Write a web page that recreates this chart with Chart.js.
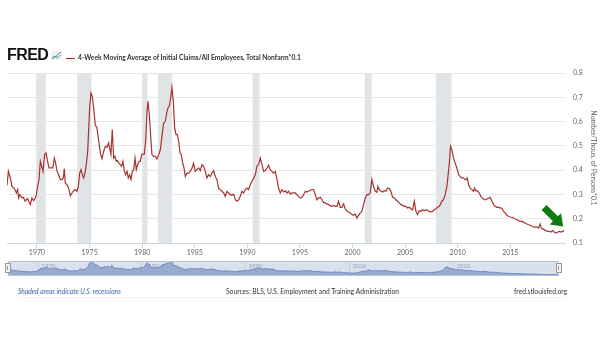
<!DOCTYPE html>
<html>
<head>
<meta charset="utf-8">
<script src="https://cdn.jsdelivr.net/npm/chart.js@4.4.1/dist/chart.umd.min.js"></script>
<style>
  html, body { margin: 0; padding: 0; background: #fff; }
  body { width: 605px; height: 341px; position: relative; overflow: hidden; font-family: Lato, "Open Sans", sans-serif; }
  #main { position: absolute; left: 0; top: 0; }
  #nav { position: absolute; left: 5px; top: 261px; }
  .logo { position: absolute; left: 7px; top: 46px; font: bold 16px "Liberation Sans", Arial, sans-serif; letter-spacing: -0.6px; color: #111; }
  .logo svg { position: absolute; left: 44px; top: 5px; }
  .legend { position: absolute; left: 66px; top: 53px; font-size: 6.7px; font-weight: bold; color: #333; white-space: nowrap; }
  .legend i { display: inline-block; width: 9px; height: 1.5px; background: #a83232; vertical-align: middle; margin-right: 3px; }
  .foot { position: absolute; top: 287px; font-size: 6.7px; color: #333; white-space: nowrap; }
  .rule { position: absolute; left: 18px; top: 297px; width: 547px; border-top: 1px solid #eef2f7; }
</style>
</head>
<body>
<canvas id="main" width="605" height="290"></canvas>
<canvas id="nav" width="557" height="15"></canvas>
<div class="logo">FRED<svg width="11" height="9" viewBox="0 0 11 9"><rect x="0" y="0" width="11" height="9" fill="#eef3f8"/><polyline points="1,8 3,5 5,6 7,3 10,1" fill="none" stroke="#4a8bc4" stroke-width="1"/><polyline points="1,8 4,6 6,7 10,4" fill="none" stroke="#7ab648" stroke-width="1"/></svg></div>
<div class="legend"><i></i>4-Week Moving Average of Initial Claims/All Employees, Total Nonfarm*0.1</div>
<div class="foot" style="left:18px;color:#3a62a8;font-style:italic;">Shaded areas indicate U.S. recessions</div>
<div class="foot" style="left:226px;">Sources: BLS, U.S. Employment and Training Administration</div>
<div class="foot" style="left:514px;">fred.stlouisfed.org</div>
<div class="rule"></div>
<script>
const years = [
  1967.15, 1967.28, 1967.47, 1967.62, 1967.85, 1968.04, 1968.16, 1968.26, 1968.35, 1968.48,
  1968.61, 1968.73, 1968.86, 1968.99, 1969.11, 1969.24, 1969.37, 1969.52, 1969.68, 1969.84,
  1969.94, 1970.06, 1970.19, 1970.32, 1970.44, 1970.57, 1970.73, 1970.86, 1971.01, 1971.14,
  1971.27, 1971.43, 1971.52, 1971.65, 1971.77, 1971.90, 1972.06, 1972.22, 1972.38, 1972.50,
  1972.60, 1972.69, 1972.85, 1973.01, 1973.17, 1973.33, 1973.49, 1973.64, 1973.80, 1973.93,
  1974.06, 1974.18, 1974.31, 1974.44, 1974.59, 1974.69, 1974.82, 1974.91, 1975.01, 1975.13,
  1975.26, 1975.39, 1975.54, 1975.70, 1975.86, 1976.02, 1976.18, 1976.34, 1976.50, 1976.65,
  1976.81, 1976.91, 1977.03, 1977.16, 1977.29, 1977.41, 1977.54, 1977.67, 1977.79, 1977.92,
  1978.05, 1978.17, 1978.30, 1978.43, 1978.56, 1978.68, 1978.81, 1978.94, 1979.06, 1979.19,
  1979.32, 1979.44, 1979.57, 1979.70, 1979.82, 1979.95, 1980.08, 1980.20, 1980.33, 1980.46,
  1980.55, 1980.68, 1980.81, 1980.93, 1981.09, 1981.25, 1981.41, 1981.57, 1981.73, 1981.88,
  1982.04, 1982.20, 1982.33, 1982.45, 1982.58, 1982.71, 1982.83, 1982.96, 1983.09, 1983.22,
  1983.34, 1983.47, 1983.60, 1983.72, 1983.85, 1983.98, 1984.10, 1984.26, 1984.42, 1984.58,
  1984.74, 1984.89, 1985.05, 1985.21, 1985.37, 1985.53, 1985.69, 1985.85, 1986.00, 1986.16,
  1986.32, 1986.48, 1986.64, 1986.80, 1986.95, 1987.11, 1987.27, 1987.43, 1987.59, 1987.75,
  1987.90, 1988.06, 1988.22, 1988.38, 1988.54, 1988.70, 1988.86, 1989.01, 1989.17, 1989.33,
  1989.49, 1989.65, 1989.81, 1989.96, 1990.12, 1990.28, 1990.44, 1990.60, 1990.76, 1990.91,
  1991.07, 1991.23, 1991.39, 1991.55, 1991.71, 1991.87, 1992.02, 1992.18, 1992.34, 1992.50,
  1992.66, 1992.82, 1992.97, 1993.13, 1993.29, 1993.45, 1993.61, 1993.77, 1993.93, 1994.08,
  1994.24, 1994.40, 1994.56, 1994.71, 1994.87, 1995.03, 1995.19, 1995.35, 1995.51, 1995.66,
  1995.82, 1995.98, 1996.14, 1996.30, 1996.46, 1996.61, 1996.77, 1996.93, 1997.09, 1997.25,
  1997.41, 1997.57, 1997.72, 1997.88, 1998.04, 1998.20, 1998.36, 1998.52, 1998.67, 1998.83,
  1998.99, 1999.15, 1999.31, 1999.47, 1999.62, 1999.78, 1999.94, 2000.10, 2000.26, 2000.42,
  2000.58, 2000.73, 2000.89, 2001.05, 2001.21, 2001.37, 2001.53, 2001.68, 2001.84, 2002.00,
  2002.16, 2002.32, 2002.41, 2002.54, 2002.70, 2002.86, 2003.02, 2003.17, 2003.33, 2003.49,
  2003.65, 2003.81, 2003.97, 2004.12, 2004.28, 2004.44, 2004.60, 2004.76, 2004.92, 2005.07,
  2005.23, 2005.39, 2005.55, 2005.71, 2005.87, 2006.03, 2006.18, 2006.34, 2006.50, 2006.66,
  2006.82, 2006.98, 2007.13, 2007.29, 2007.45, 2007.61, 2007.77, 2007.93, 2008.08, 2008.24,
  2008.34, 2008.49, 2008.65, 2008.81, 2008.97, 2009.06, 2009.19, 2009.32, 2009.44, 2009.60,
  2009.76, 2009.92, 2010.08, 2010.24, 2010.39, 2010.55, 2010.71, 2010.81, 2010.90, 2011.03,
  2011.19, 2011.35, 2011.50, 2011.60, 2011.73, 2011.88, 2012.04, 2012.20, 2012.36, 2012.52,
  2012.68, 2012.83, 2012.99, 2013.09, 2013.25, 2013.41, 2013.56, 2013.72, 2013.88, 2014.04,
  2014.20, 2014.36, 2014.51, 2014.67, 2014.83, 2014.99, 2015.15, 2015.31, 2015.46, 2015.62,
  2015.78, 2015.94, 2016.10, 2016.26, 2016.42, 2016.57, 2016.73, 2016.89, 2017.05, 2017.21,
  2017.37, 2017.52, 2017.68, 2017.84, 2017.94, 2018.06, 2018.22, 2018.38, 2018.54, 2018.70,
  2018.86, 2019.01, 2019.17, 2019.33, 2019.49, 2019.65, 2019.81, 2019.97, 2020.12
];

const claims = [
  0.337, 0.395, 0.368, 0.333, 0.324, 0.306, 0.320, 0.285, 0.299, 0.292,
  0.285, 0.288, 0.272, 0.278, 0.283, 0.269, 0.258, 0.285, 0.274, 0.285,
  0.299, 0.333, 0.361, 0.436, 0.416, 0.395, 0.464, 0.471, 0.436, 0.409,
  0.409, 0.409, 0.412, 0.450, 0.429, 0.398, 0.381, 0.361, 0.361, 0.368,
  0.406, 0.347, 0.340, 0.326, 0.295, 0.306, 0.315, 0.320, 0.313, 0.333,
  0.388, 0.402, 0.381, 0.368, 0.395, 0.423, 0.477, 0.560, 0.656, 0.718,
  0.704, 0.656, 0.587, 0.574, 0.525, 0.471, 0.447, 0.477, 0.498, 0.494,
  0.512, 0.491, 0.466, 0.567, 0.450, 0.457, 0.436, 0.439, 0.429, 0.423,
  0.416, 0.436, 0.398, 0.381, 0.395, 0.368, 0.381, 0.361, 0.395, 0.402,
  0.450, 0.402, 0.423, 0.436, 0.436, 0.464, 0.466, 0.466, 0.519, 0.642,
  0.683, 0.628, 0.539, 0.464, 0.457, 0.457, 0.446, 0.464, 0.484, 0.539,
  0.594, 0.601, 0.635, 0.656, 0.663, 0.697, 0.741, 0.683, 0.574, 0.546,
  0.546, 0.519, 0.471, 0.464, 0.429, 0.409, 0.374, 0.388, 0.388, 0.395,
  0.409, 0.429, 0.395, 0.402, 0.409, 0.398, 0.423, 0.416, 0.395, 0.368,
  0.381, 0.374, 0.388, 0.398, 0.374, 0.361, 0.326, 0.320, 0.313, 0.306,
  0.292, 0.313, 0.306, 0.299, 0.296, 0.302, 0.278, 0.272, 0.278, 0.292,
  0.313, 0.306, 0.320, 0.326, 0.320, 0.340, 0.354, 0.368, 0.381, 0.416,
  0.423, 0.450, 0.423, 0.395, 0.398, 0.409, 0.420, 0.402, 0.395, 0.388,
  0.395, 0.361, 0.326, 0.306, 0.320, 0.310, 0.315, 0.306, 0.313, 0.302,
  0.306, 0.306, 0.306, 0.299, 0.292, 0.285, 0.288, 0.299, 0.313, 0.310,
  0.313, 0.317, 0.320, 0.320, 0.299, 0.278, 0.285, 0.288, 0.278, 0.267,
  0.265, 0.261, 0.258, 0.254, 0.251, 0.255, 0.251, 0.251, 0.272, 0.247,
  0.247, 0.261, 0.240, 0.233, 0.228, 0.224, 0.217, 0.214, 0.219, 0.203,
  0.214, 0.224, 0.230, 0.258, 0.285, 0.299, 0.299, 0.306, 0.361, 0.333,
  0.313, 0.309, 0.333, 0.320, 0.313, 0.310, 0.315, 0.313, 0.326, 0.324,
  0.313, 0.288, 0.285, 0.278, 0.272, 0.265, 0.258, 0.255, 0.251, 0.251,
  0.244, 0.247, 0.241, 0.237, 0.272, 0.230, 0.217, 0.233, 0.230, 0.237,
  0.233, 0.237, 0.235, 0.230, 0.228, 0.230, 0.237, 0.241, 0.247, 0.251,
  0.258, 0.272, 0.278, 0.299, 0.333, 0.368, 0.423, 0.498, 0.484, 0.450,
  0.429, 0.409, 0.381, 0.374, 0.368, 0.368, 0.361, 0.361, 0.368, 0.340,
  0.326, 0.320, 0.313, 0.326, 0.315, 0.315, 0.306, 0.292, 0.285, 0.278,
  0.278, 0.283, 0.285, 0.288, 0.272, 0.258, 0.251, 0.247, 0.248, 0.244,
  0.244, 0.230, 0.224, 0.214, 0.210, 0.207, 0.206, 0.203, 0.199, 0.196,
  0.193, 0.189, 0.189, 0.186, 0.182, 0.178, 0.175, 0.173, 0.169, 0.166,
  0.165, 0.165, 0.162, 0.178, 0.162, 0.158, 0.155, 0.151, 0.148, 0.148,
  0.145, 0.151, 0.145, 0.141, 0.144, 0.148, 0.145, 0.148, 0.151
];

// NBER recessions (decimal years)
const recessionStart = [1969.92, 1973.83, 1980.0, 1981.5, 1990.5, 2001.17, 2007.92];
const recessionEnd = [1970.83, 1975.17, 1980.5, 1982.83, 1991.17, 2001.83, 2009.42];

const navLabels = [1970, 1980, 1990, 2000, 2010];

const lineColor = "#a83232";
const points = years.map((y, i) => ({ x: y, y: claims[i] }));

const recessionBands = {
  id: "recessionBands",
  beforeDraw(chart) {
    const { ctx, chartArea, scales } = chart;
    ctx.save();
    ctx.fillStyle = "#e1e4e6";
    for (let i = 0; i < recessionStart.length; i++) {
      const x1 = scales.x.getPixelForValue(recessionStart[i]);
      const x2 = scales.x.getPixelForValue(recessionEnd[i]);
      ctx.fillRect(x1, chartArea.top, x2 - x1, chartArea.bottom - chartArea.top);
    }
    ctx.restore();
  },
};

// green arrow pointing at the latest observation
const arrowNote = {
  id: "arrowNote",
  afterDatasetsDraw(chart) {
    const { ctx, scales } = chart;
    const last = years.length - 1;
    const tx = scales.x.getPixelForValue(years[last]) - 1;
    const ty = scales.y.getPixelForValue(claims[last]) - 4;
    ctx.save();
    ctx.translate(tx, ty);
    ctx.rotate(Math.PI / 4);
    ctx.fillStyle = "#0f7a12";
    ctx.beginPath();
    ctx.moveTo(0, 0);
    ctx.lineTo(-11, -8);
    ctx.lineTo(-11, -3.5);
    ctx.lineTo(-27, -3.5);
    ctx.lineTo(-27, 3.5);
    ctx.lineTo(-11, 3.5);
    ctx.lineTo(-11, 8);
    ctx.closePath();
    ctx.fill();
    ctx.restore();
  },
};

new Chart(document.getElementById("main"), {
  type: "line",
  data: {
    datasets: [{
      data: points,
      borderColor: lineColor,
      borderWidth: 1.2,
      pointRadius: 0,
      tension: 0,
      fill: false,
    }],
  },
  options: {
    responsive: false,
    animation: false,
    layout: { padding: { top: 73, left: 7, right: 0, bottom: 27 } },
    plugins: { legend: { display: false }, tooltip: { enabled: false } },
    scales: {
      x: {
        type: "linear",
        min: years[0],
        max: 2020.2,
        afterFit(scale) { scale.height = 20; },
        // no label squeezed against the right edge
        afterBuildTicks(scale) { scale.ticks = scale.ticks.filter((t) => t.value < scale.max - 1); },
        ticks: {
          stepSize: 5,
          includeBounds: false,
          autoSkip: false,
          maxRotation: 0,
          padding: 1,
          color: "#666",
          font: { family: "Lato", size: 7 },
          callback: (v) => String(v),
        },
        grid: { drawOnChartArea: false, drawTicks: true, tickLength: 5, color: "#ccd6eb" },
        border: { color: "#ccd6eb" },
      },
      y: {
        position: "right",
        min: 0.1,
        max: 0.8,
        afterFit(scale) { scale.width = 40; },
        ticks: {
          stepSize: 0.1,
          padding: 8,
          color: "#666",
          font: { family: "Lato", size: 7 },
          callback: (v) => v.toFixed(1),
        },
        grid: { color: "#e6e6e6", drawTicks: false },
        border: { display: false },
        title: {
          display: true,
          text: "Number/Thous. of Persons*0.1",
          color: "#666",
          font: { family: "Lato", size: 7 },
          padding: { top: 8, bottom: 0 },
        },
      },
    },
  },
  plugins: [recessionBands, arrowNote],
});

const navDecor = {
  id: "navDecor",
  beforeDraw(chart) {
    const { ctx, chartArea, scales } = chart;
    ctx.save();
    ctx.fillStyle = "#d9e0ee";
    ctx.fillRect(chartArea.left, chartArea.top, chartArea.right - chartArea.left, chartArea.bottom - chartArea.top);
    ctx.strokeStyle = "#c4cde2";
    ctx.fillStyle = "#9aa6bd";
    ctx.font = "6px Lato";
    navLabels.forEach((yr) => {
      const x = Math.round(scales.x.getPixelForValue(yr)) + 0.5;
      ctx.beginPath();
      ctx.moveTo(x, chartArea.top);
      ctx.lineTo(x, chartArea.bottom);
      ctx.stroke();
      ctx.fillText(String(yr), x + 3, chartArea.top + 7);
    });
    ctx.restore();
  },
  afterDraw(chart) {
    const { ctx, chartArea } = chart;
    ctx.save();
    ctx.strokeStyle = "#b8c2d8";
    ctx.strokeRect(chartArea.left + 0.5, chartArea.top + 0.5, chartArea.right - chartArea.left - 1, chartArea.bottom - chartArea.top - 1);
    ctx.fillStyle = "#f2f2f2";
    ctx.strokeStyle = "#999";
    [chartArea.left, chartArea.right].forEach((x) => {
      ctx.fillRect(x - 3, chartArea.top + 2, 6, 10);
      ctx.strokeRect(x - 2.5, chartArea.top + 2.5, 5, 9);
      ctx.beginPath();
      ctx.moveTo(x - 0.5, chartArea.top + 5);
      ctx.lineTo(x - 0.5, chartArea.top + 9);
      ctx.stroke();
    });
    ctx.restore();
  },
};

new Chart(document.getElementById("nav"), {
  type: "line",
  data: {
    datasets: [{
      data: points,
      borderColor: "#6f89bd",
      borderWidth: 1,
      backgroundColor: "#97aad0",
      pointRadius: 0,
      fill: "start",
    }],
  },
  options: {
    responsive: false,
    animation: false,
    layout: { padding: { left: 3, right: 3, top: 0, bottom: 0 } },
    plugins: { legend: { display: false }, tooltip: { enabled: false } },
    scales: {
      x: { type: "linear", display: false, min: years[0], max: 2020.2 },
      y: { display: false, min: 0.08, max: 0.76 },
    },
  },
  plugins: [navDecor],
});
</script>
</body>
</html>
